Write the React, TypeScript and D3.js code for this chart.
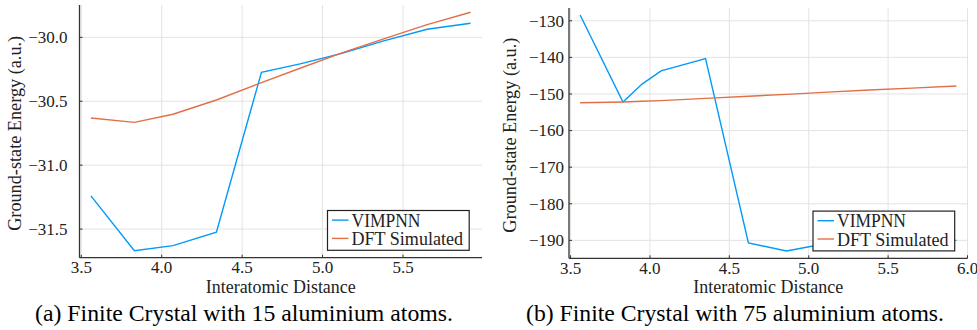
import React from "react";
import * as d3 from "d3";

// (a) 15 atoms
const distA = [3.56, 3.83, 4.07, 4.34, 4.62, 4.86, 5.12, 5.38, 5.65, 5.92];
const vimpnnA = [-31.24, -31.67, -31.63, -31.525, -30.274, -30.208, -30.125, -30.028, -29.937, -29.89];
const dftA = [-30.631, -30.665, -30.602, -30.49, -30.355, -30.242, -30.121, -30.012, -29.9, -29.804];

// (b) 75 atoms
const distB = [3.56, 3.83, 3.95, 4.07, 4.35, 4.62, 4.86, 5.12, 5.38, 5.65, 5.93];
const vimpnnB = [-128.4, -152.2, -147.3, -143.7, -140.3, -190.7, -192.9, -190.8, -190.5, -190.2, -190.0];
const dftB = [-152.4, -152.2, -152.0, -151.8, -151.2, -150.6, -150.1, -149.5, -148.9, -148.4, -147.8];

const xTicksA = [3.5, 4.0, 4.5, 5.0, 5.5];
const xTicksB = [3.5, 4.0, 4.5, 5.0, 5.5, 6.0];
const yTicksA = [-30.0, -30.5, -31.0, -31.5];
const yTicksB = [-130, -140, -150, -160, -170, -180, -190];

const seriesNames = ["VIMPNN", "DFT Simulated"];
const colors = ["#009AFA", "#E26F46"];
const captions = [
  "(a) Finite Crystal with 15 aluminium atoms.",
  "(b) Finite Crystal with 75 aluminium atoms.",
];

const txt = { fontFamily: '"Liberation Serif"' };

function Panel(props) {
  const { box, xDomain, yDomain, xTicks, yTicks, yFmt, xs, a, b, yLabelX, caption, capX } = props;
  const x = d3.scaleLinear().domain(xDomain).range([box.l, box.r]);
  const y = d3.scaleLinear().domain(yDomain).range([box.b, box.t]);
  const line = d3
    .line<number>()
    .x((d, i) => x(xs[i]))
    .y((d) => y(d));
  const fx = d3.format(".1f");

  const lg = { l: box.r - 154.5, r: box.r - 12.8, t: box.b - 47.2, b: box.b - 7.4 };

  return (
    <g>
      {/* grid */}
      {xTicks.map((t) => (
        <line key={"gx" + t} x1={x(t)} x2={x(t)} y1={box.t} y2={box.b} stroke="#e3e3e3" strokeWidth={1} />
      ))}
      {yTicks.map((t) => (
        <line key={"gy" + t} x1={box.l} x2={box.r} y1={y(t)} y2={y(t)} stroke="#e3e3e3" strokeWidth={1} />
      ))}

      {/* series */}
      <path d={line(a)} fill="none" stroke={colors[0]} strokeWidth={1.4} />
      <path d={line(b)} fill="none" stroke={colors[1]} strokeWidth={1.4} />

      {/* axes */}
      <line x1={box.l} x2={box.l} y1={box.t} y2={box.b} stroke="#333" strokeWidth={1.3} />
      <line x1={box.l} x2={box.r} y1={box.b} y2={box.b} stroke="#333" strokeWidth={1.3} />
      {xTicks.map((t) => (
        <g key={"tx" + t}>
          <line x1={x(t)} x2={x(t)} y1={box.b} y2={box.b - 3} stroke="#333" strokeWidth={1} />
          <text x={x(t)} y={box.b + 15.6} textAnchor="middle" fontSize={17} fill="#222" style={txt}>
            {fx(t)}
          </text>
        </g>
      ))}
      {yTicks.map((t) => (
        <g key={"ty" + t}>
          <line x1={box.l} x2={box.l + 3} y1={y(t)} y2={y(t)} stroke="#333" strokeWidth={1} />
          <text x={box.l - props.yLabGap} y={y(t)} dy="0.34em" textAnchor="end" fontSize={17} fill="#222" style={txt}>
            {yFmt(t)}
          </text>
        </g>
      ))}

      {/* axis titles */}
      <text
        x={(box.l + box.r) / 2}
        y={293}
        textAnchor="middle"
        fontSize={18}
        fill="#222"
        style={txt}
        textLength={150}
        lengthAdjust="spacingAndGlyphs"
      >
        Interatomic Distance
      </text>
      <text
        transform={`translate(${yLabelX},${(box.t + box.b) / 2 + 2}) rotate(-90)`}
        textAnchor="middle"
        dy="0.33em"
        fontSize={18}
        fill="#222"
        style={txt}
        textLength={195}
        lengthAdjust="spacingAndGlyphs"
      >
        Ground-state Energy (a.u.)
      </text>

      {/* legend */}
      <rect x={lg.l} y={lg.t} width={lg.r - lg.l} height={lg.b - lg.t} fill="#fff" stroke="#222" strokeWidth={1.2} />
      {seriesNames.map((s, i) => (
        <g key={s}>
          <line
            x1={lg.l + 4.5}
            x2={lg.l + 21}
            y1={lg.t + 9.6 + i * 18.3}
            y2={lg.t + 9.6 + i * 18.3}
            stroke={colors[i]}
            strokeWidth={1.4}
          />
          <text
            x={lg.l + 24}
            y={lg.t + 16.2 + i * 18.3}
            fontSize={18}
            fill="#222"
            style={txt}
            textLength={i === 0 ? 69 : 111.5}
            lengthAdjust="spacingAndGlyphs"
          >
            {s}
          </text>
        </g>
      ))}

      {/* caption */}
      <text
        x={capX}
        y={321}
        textAnchor="middle"
        fontSize={23}
        fill="#000"
        style={txt}
        textLength={418}
        lengthAdjust="spacingAndGlyphs"
      >
        {caption}
      </text>
    </g>
  );
}

export default function App() {
  const fInt = d3.format(".0f");
  const fOne = d3.format(".1f");
  return (
    <svg width={977} height={330} style={{ position: "absolute", left: 0, top: 0, background: "#fff" }}>
      <Panel
        box={{ l: 79.5, r: 482, t: 5, b: 257.7 }}
        xDomain={[3.489, 5.991]}
        yDomain={[-31.724, -29.747]}
        xTicks={xTicksA}
        yTicks={yTicksA}
        yFmt={fOne}
        yLabGap={12}
        xs={distA}
        a={vimpnnA}
        b={dftA}
        yLabelX={15.5}
        caption={captions[0]}
        capX={244}
      />
      <Panel
        box={{ l: 569, r: 967.5, t: 8, b: 258.3 }}
        xDomain={[3.49, 6.0]}
        yDomain={[-194.9, -126.5]}
        xTicks={xTicksB}
        yTicks={yTicksB}
        yFmt={fInt}
        yLabGap={5}
        xs={distB}
        a={vimpnnB}
        b={dftB}
        yLabelX={510}
        caption={captions[1]}
        capX={735}
      />
    </svg>
  );
}
